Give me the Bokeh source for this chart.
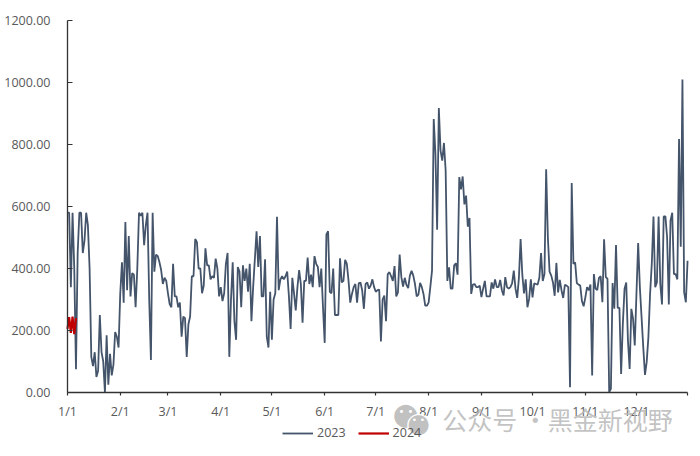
from bokeh.embed import file_html
from bokeh.models import FixedTicker, Label, Legend, LegendItem, Range1d
from bokeh.plotting import figure
from bokeh.resources import INLINE

# daily values of 2023
jan = [580, 580, 340, 580, 400, 75, 450, 580, 580, 450, 490, 580, 540, 400, 115, 85,
       130, 50, 70, 250, 130, 100, 0, 185, 25, 125, 55, 90, 195, 180, 145]
feb = [320, 420, 290, 550, 330, 505, 310, 385, 380, 275, 400, 580, 570, 580, 475, 540,
       580, 300, 105, 580, 390, 445, 440, 420, 395, 350, 370, 360]
mar = [320, 285, 275, 415, 310, 310, 275, 290, 180, 245, 240, 115, 220, 245, 375, 375,
       495, 485, 400, 400, 320, 345, 465, 410, 410, 365, 375, 370, 432, 400, 310]
apr = [340, 295, 320, 415, 450, 115, 300, 420, 230, 170, 405, 390, 275, 410, 360, 400,
       325, 415, 230, 340, 430, 520, 405, 505, 310, 310, 430, 180, 145, 325]
may = [170, 300, 320, 567, 330, 365, 375, 365, 375, 390, 310, 205, 370, 320, 265, 340,
       395, 350, 225, 360, 360, 435, 350, 380, 340, 440, 415, 405, 340, 400, 275]
jun = [160, 510, 520, 325, 320, 400, 250, 250, 250, 433, 355, 360, 428, 415, 360, 290,
       318, 340, 350, 290, 352, 355, 330, 270, 350, 355, 335, 345, 365, 340]
jul = [325, 330, 332, 165, 300, 313, 230, 382, 388, 375, 360, 408, 310, 323, 445, 372,
       342, 370, 347, 337, 377, 393, 377, 350, 310, 316, 354, 340, 318, 280, 280]
aug = [290, 340, 393, 882, 770, 525, 918, 780, 748, 805, 716, 360, 404, 335, 335, 410,
       417, 380, 695, 655, 697, 607, 635, 535, 563, 318, 348, 350, 340, 340, 345]
sep = [308, 335, 360, 310, 310, 310, 355, 335, 365, 340, 340, 363, 330, 313, 372, 340,
       335, 340, 352, 393, 335, 305, 370, 495, 380, 320, 365, 275, 302, 365]
oct_ = [307, 352, 350, 348, 370, 450, 360, 382, 720, 500, 390, 377, 355, 312, 418, 323,
        363, 330, 305, 347, 345, 340, 17, 676, 415, 420, 353, 348, 345, 295, 278]
nov = [307, 340, 330, 348, 55, 382, 335, 330, 370, 375, 291, 494, 372, 367, 1, 12,
       353, 270, 476, 273, 273, 60, 220, 334, 355, 168, 76, 270, 238, 152]
dec = [318, 482, 340, 243, 146, 57, 98, 178, 318, 415, 568, 340, 355, 568, 350, 284,
       568, 568, 500, 284, 555, 580, 382, 382, 365, 818, 470, 1010, 323, 291, 425]
values_2024 = [205, 243, 192, 245, 188, 240]

months = [jan, feb, mar, apr, may, jun, jul, aug, sep, oct_, nov, dec]
month_labels = ["1/1", "2/1", "3/1", "4/1", "5/1", "6/1",
                "7/1", "8/1", "9/1", "10/1", "11/1", "12/1"]
y_ticks = [0, 200, 400, 600, 800, 1000, 1200]

GREY = "#595959"
FONT = "Open Sans"


def main():

    values_2023 = [v for month in months for v in month]
    days_2023 = list(range(len(values_2023)))
    days_2024 = list(range(len(values_2024)))

    # first day of every month, plus the unlabelled tick at the end of the year
    starts = [sum(len(m) for m in months[:i]) for i in range(12)]
    last_day = len(values_2023) - 1
    x_labels = dict(zip(starts, month_labels))
    x_labels[last_day] = ""

    # the frame fills the whole figure so axis labels, legend and watermark are not
    # clipped by it; both axes are pinned at zero and bounded to the data area
    p = figure(width=692, height=448, output_backend="svg", toolbar_location=None,
               x_range=Range1d(-39.3, 366.9), y_range=Range1d(-180.6, 1264.5),
               min_border_left=0, min_border_right=0, min_border_top=0,
               min_border_bottom=0)
    p.grid.visible = False
    p.outline_line_color = None

    r1 = p.line(days_2023, values_2023, line_color="#44546a", line_width=1.8)
    r2 = p.line(days_2024, values_2024, line_color="#c00000", line_width=2.2)

    p.xaxis.fixed_location = 0
    p.xaxis.bounds = (0, last_day)
    p.xaxis.ticker = FixedTicker(ticks=starts + [last_day])
    p.xaxis.major_label_overrides = x_labels
    p.xaxis.major_tick_in = 0
    p.xaxis.major_tick_out = 3
    p.xaxis.major_label_standoff = 7

    p.yaxis.fixed_location = 0
    p.yaxis.bounds = (0, 1200)
    p.yaxis.ticker = FixedTicker(ticks=y_ticks)
    p.yaxis.major_label_overrides = {t: "%.2f" % t for t in y_ticks}
    p.yaxis.major_tick_in = 5
    p.yaxis.major_tick_out = 0
    p.yaxis.major_label_standoff = 17

    for axis in [p.xaxis, p.yaxis]:
        axis.minor_tick_line_color = None
        axis.axis_line_color = "#333333"
        axis.axis_line_width = 1.3
        axis.major_tick_line_color = "#333333"
        axis.major_tick_line_width = 1.2
        axis.major_label_text_color = GREY
        axis.major_label_text_font = FONT
        axis.major_label_text_font_size = "12.5px"

    legend = Legend(items=[LegendItem(label="2023", renderers=[r1]),
                           LegendItem(label="2024", renderers=[r2])],
                    orientation="horizontal", location=(282, 7),
                    border_line_color=None, background_fill_alpha=0,
                    glyph_width=31, glyph_height=12, label_standoff=4,
                    spacing=12, margin=0, padding=4,
                    label_text_color=GREY, label_text_font=FONT,
                    label_text_font_size="12.5px")
    p.add_layout(legend, "center")

    # watermark over the bottom of the chart, x/y are pixels of the 700x456 picture
    def mark(text, x, y, size, color, font="Noto Sans CJK SC", alpha=1.0):
        p.add_layout(Label(x=x, y=448 - y, x_units="screen", y_units="screen",
                           text=text, text_font=font, text_font_size=size,
                           text_color=color, text_alpha=alpha,
                           text_align="center", text_baseline="middle"))

    mark("●", 405, 413, "30px", "#b9b9b9", "DejaVu Sans", 0.9)
    mark("•", 401, 411, "10px", "#ffffff", "DejaVu Sans")
    mark("•", 410, 411, "10px", "#ffffff", "DejaVu Sans")
    mark("●", 418, 422, "30px", "#ffffff", "DejaVu Sans")
    mark("●", 418, 422, "26px", "#b9b9b9", "DejaVu Sans", 0.9)
    mark("•", 414, 419, "9px", "#ffffff", "DejaVu Sans")
    mark("•", 422, 419, "9px", "#ffffff", "DejaVu Sans")
    mark("公众号 ·黑金新视野", 557, 418, "25px", "#b8b8b8", alpha=0.85)

    open("out.html", "w").write(file_html(p, INLINE))


if __name__ == "__main__":
    main()
